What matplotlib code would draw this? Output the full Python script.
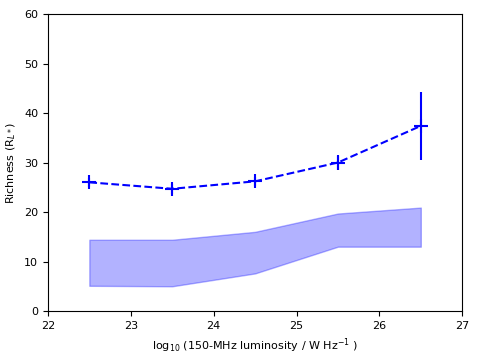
import numpy as np
import matplotlib
matplotlib.use('Agg')
import matplotlib.pyplot as plt

# binned luminosity centres and richness
lum = [22.5, 23.5, 24.5, 25.5, 26.5]
richness = [26.0, 24.7, 26.2, 30.0, 37.4]
richness_err = [0.9, 1.0, 0.9, 1.6, 6.8]

# comparison band
band_lo = [5.1, 5.0, 7.6, 13.0, 13.0]
band_hi = [14.4, 14.4, 16.0, 19.7, 20.9]

fig, ax = plt.subplots(figsize=(4.79, 3.6), dpi=100)
fig.subplots_adjust(left=0.100, right=0.965, top=0.961, bottom=0.136)

ax.errorbar(lum, richness, yerr=richness_err, fmt='b+--', markersize=10,
            markeredgewidth=1.5, linewidth=1.5, elinewidth=1.5)
ax.fill_between(lum, band_lo, band_hi, color='blue', alpha=0.3)

ax.set_xlim(22, 27)
ax.set_ylim(0, 60)
ax.set_xlabel(r'log$_{10}$ (150-MHz luminosity / W Hz$^{-1}$ )', fontsize=8)
ax.set_ylabel(r'Richness (R$_{L*}$)', fontsize=8)
ax.tick_params(labelsize=8)

fig.savefig('out.png', dpi=100)
